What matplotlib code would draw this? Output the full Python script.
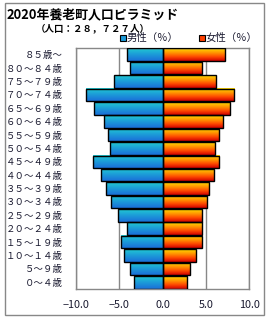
import numpy as np
import matplotlib
matplotlib.use("Agg")
import matplotlib.pyplot as plt
from matplotlib.colors import LinearSegmentedColormap
from matplotlib.patches import Rectangle

plt.rcParams['font.family'] = ['Noto Sans CJK JP', 'DejaVu Sans']

# age groups from bottom (0-4) to top (85+)
ages = ['０～４歳', '５～９歳', '１０～１４歳', '１５～１９歳', '２０～２４歳',
        '２５～２９歳', '３０～３４歳', '３５～３９歳', '４０～４４歳', '４５～４９歳',
        '５０～５４歳', '５５～５９歳', '６０～６４歳', '６５～６９歳', '７０～７４歳',
        '７５～７９歳', '８０～８４歳', '８５歳～']
male = [3.3, 3.8, 4.5, 4.8, 4.1, 5.2, 6.0, 6.55, 7.1, 8.0,
        6.1, 6.3, 6.8, 7.9, 8.9, 5.6, 3.8, 4.15]
female = [2.87, 3.2, 3.9, 4.6, 4.6, 4.6, 5.17, 5.37, 5.98, 6.55,
          6.1, 6.55, 7.0, 7.86, 8.28, 6.2, 4.6, 7.24]
xticks = [-10, -5, 0, 5, 10]

title = '2020年養老町人口ピラミッド'
subtitle = '（人口：２８，７２７人）'

male_cmap = LinearSegmentedColormap.from_list('m', ['#1a6fd8', '#1c9ad8', '#22cad2'])
female_cmap = LinearSegmentedColormap.from_list('f', ['#d00000', '#ff4a00', '#ff9a00', '#ffdc00'])

fig = plt.figure(figsize=(2.7, 3.2), dpi=100)
ax = fig.add_axes([76/270, 1-289/320, 173/270, 241/320])

h = 0.94
grad = np.linspace(0, 1, 64).reshape(-1, 1)
y = np.arange(len(ages))
for i in y:
    ax.imshow(grad, cmap=male_cmap, extent=[-male[i], 0, i-h/2, i+h/2],
              aspect='auto', origin='lower', zorder=2, interpolation='bilinear')
    ax.imshow(grad, cmap=female_cmap, extent=[0, female[i], i-h/2, i+h/2],
              aspect='auto', origin='lower', zorder=2, interpolation='bilinear')
ax.barh(y, [-m for m in male], height=h, fill=False, edgecolor='black', lw=1.0, zorder=3)
ax.barh(y, female, height=h, fill=False, edgecolor='black', lw=1.0, zorder=3)

ax.set_xlim(-10, 10)
ax.set_ylim(-0.5, len(ages)-0.5)
ax.set_xticks(xticks)
ax.set_xticklabels(['%.1f' % v if v >= 0 else '−%.1f' % -v for v in xticks],
                   fontsize=7.8, color='#1a1a30')
ax.set_yticks(y)
ax.set_yticklabels(ages, fontsize=6.8, color='#1a1a30')
ax.tick_params(length=0)
ax.tick_params(axis='y', pad=9.5)
ax.tick_params(axis='x', pad=8)
ax.grid(axis='x', color='#888888', lw=1, zorder=1)
for s in ax.spines.values():
    s.set_color('#888888')
    s.set_linewidth(1)

# legend
fig.add_artist(Rectangle((120/270, 1-41/320), 6/270, 6/320, transform=fig.transFigure,
                         facecolor='#1c9ad8', edgecolor='black', lw=0.8))
fig.text(127/270, 1-38/320, '男性（％）', fontsize=7.5, va='center', color='#1a1a30')
fig.add_artist(Rectangle((199/270, 1-41/320), 6/270, 6/320, transform=fig.transFigure,
                         facecolor='#ff4000', edgecolor='black', lw=0.8))
fig.text(206/270, 1-38/320, '女性（％）', fontsize=7.5, va='center', color='#1a1a30')

fig.text(7/270, 1-14/320, title, fontsize=9.3, fontweight='bold', va='center')
fig.text(36/270, 1-28/320, subtitle, fontsize=6.8, fontweight='bold', va='center')

# outer frame
fig.add_artist(Rectangle((5/270, 1-315/320), 259/270, 312/320, transform=fig.transFigure,
                         fill=False, edgecolor='#888888', lw=1))

fig.savefig('out.png', dpi=100)
